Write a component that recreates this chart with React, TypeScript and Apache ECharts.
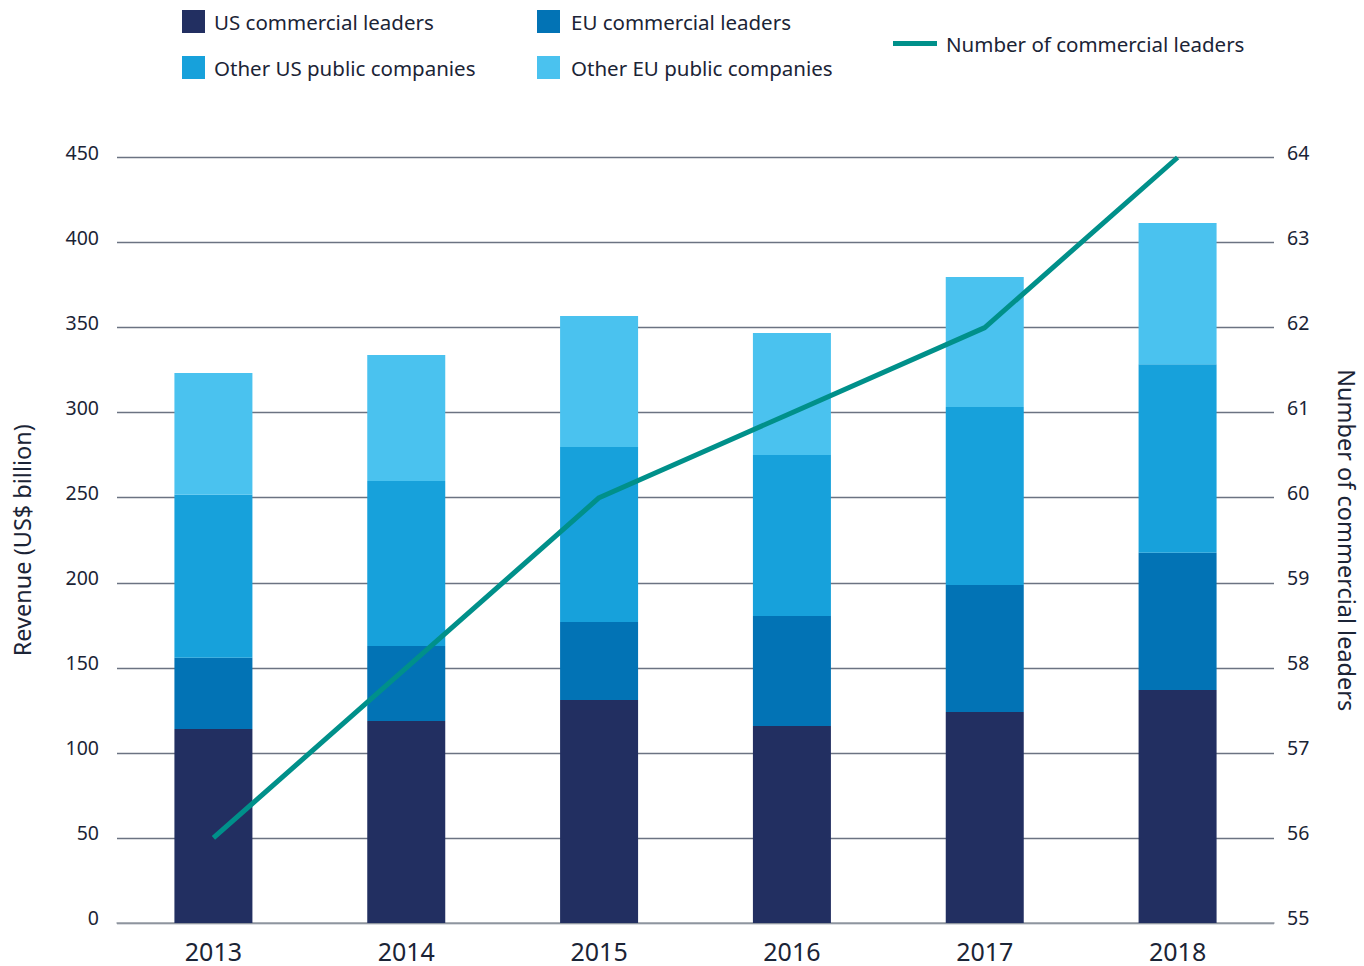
import React, { useEffect, useRef } from "react";
import * as echarts from "echarts";

const years = ["2013", "2014", "2015", "2016", "2017", "2018"];
const usCommercialLeaders = [114.0, 118.8, 131.1, 115.8, 124.0, 137.0];
const euCommercialLeaders = [42.0, 44.0, 45.9, 64.7, 74.7, 80.6];
const otherUsPublic = [95.8, 97.0, 102.8, 94.6, 104.7, 110.9];
const otherEuPublic = [71.5, 74.1, 77.0, 71.8, 76.4, 83.0];
const numberOfLeaders = [56, 58, 60, 61, 62, 64];

const FONT = "'Noto Sans', sans-serif";
const TEXT = "#1b2436";

export default function App() {
  const ref = useRef<HTMLDivElement>(null);
  useEffect(() => {
    const chart = echarts.init(ref.current!, null, { renderer: "svg" });
    const legendText = {
      color: TEXT,
      fontSize: 20.5,
      fontFamily: FONT,
      lineHeight: 23,
      padding: [0, 0, 0, 4],
    };
    const tickRich = {
      t: { color: TEXT, fontSize: 19.5, fontFamily: FONT, padding: [0, 0, 11, 0] },
    };
    const barSeries = (name: string, data: number[], color: string) => ({
      name,
      type: "bar",
      stack: "rev",
      barWidth: 78,
      data,
      itemStyle: { color },
      emphasis: { disabled: true },
    });
    chart.setOption({
      animation: false,
      textStyle: { fontFamily: FONT },
      legend: [
        {
          left: 182,
          top: 10,
          padding: 0,
          orient: "vertical",
          itemWidth: 23,
          itemHeight: 23,
          itemGap: 23,
          icon: "rect",
          selectedMode: false,
          data: ["US commercial leaders", "Other US public companies"],
          textStyle: legendText,
        },
        {
          left: 537,
          top: 10,
          padding: 0,
          orient: "vertical",
          itemWidth: 23,
          itemHeight: 23,
          itemGap: 23,
          icon: "rect",
          selectedMode: false,
          data: ["EU commercial leaders", "Other EU public companies"],
          textStyle: { ...legendText, padding: [0, 0, 0, 6] },
        },
        {
          left: 893,
          top: 32,
          padding: 0,
          itemWidth: 44,
          itemHeight: 5,
          icon: "rect",
          selectedMode: false,
          data: ["Number of commercial leaders"],
          textStyle: legendText,
        },
      ],
      grid: {
        left: 117,
        right: 90,
        top: 157.5,
        bottom: 43,
        outerBoundsMode: "none",
        containLabel: false,
      },
      xAxis: {
        type: "category",
        data: years,
        axisLine: { show: true, lineStyle: { color: "#9aa0a8", width: 1.5 } },
        axisTick: { show: false },
        axisLabel: { color: TEXT, fontSize: 25, fontFamily: FONT, margin: 15 },
      },
      yAxis: [
        {
          type: "value",
          min: 0,
          max: 450,
          interval: 50,
          name: "Revenue (US$ billion)",
          nameLocation: "middle",
          nameGap: 83,
          nameMoveOverlap: false,
          nameRotate: 90,
          nameTextStyle: { color: TEXT, fontSize: 23.5, fontFamily: FONT },
          axisLine: { show: false },
          axisTick: { show: false },
          axisLabel: {
            margin: 18,
            formatter: "{t|{value}}",
            rich: tickRich,
          },
          splitLine: { lineStyle: { color: "#6b7382", width: 1.3 } },
        },
        {
          type: "value",
          min: 55,
          max: 64,
          interval: 1,
          position: "right",
          name: "Number of commercial leaders",
          nameLocation: "middle",
          nameGap: 61,
          nameMoveOverlap: false,
          nameRotate: -90,
          nameTextStyle: { color: TEXT, fontSize: 23.5, fontFamily: FONT },
          axisLine: { show: false },
          axisTick: { show: false },
          axisLabel: {
            margin: 13,
            formatter: "{t|{value}}",
            rich: tickRich,
          },
          splitLine: { show: false },
        },
      ],
      series: [
        barSeries("US commercial leaders", usCommercialLeaders, "#222f61"),
        barSeries("EU commercial leaders", euCommercialLeaders, "#0273b5"),
        barSeries("Other US public companies", otherUsPublic, "#17a1db"),
        barSeries("Other EU public companies", otherEuPublic, "#4ac2ef"),
        {
          name: "Number of commercial leaders",
          type: "line",
          yAxisIndex: 1,
          data: numberOfLeaders,
          symbol: "none",
          lineStyle: { color: "#00908a", width: 5 },
          itemStyle: { color: "#00908a" },
          emphasis: { disabled: true },
        },
      ],
    });
    return () => chart.dispose();
  }, []);
  return (
    <div
      ref={ref}
      style={{
        position: "fixed",
        left: 0,
        top: 0,
        width: 1364,
        height: 966,
        background: "#ffffff",
      }}
    />
  );
}
